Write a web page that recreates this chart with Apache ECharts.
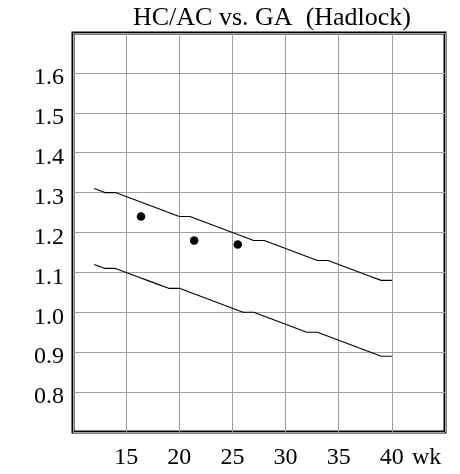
<!DOCTYPE html>
<html>
<head>
<meta charset="utf-8">
<script src="https://cdn.jsdelivr.net/npm/echarts@6/dist/echarts.min.js"></script>
<style>
html,body{margin:0;padding:0;background:#fff;}
#chart{width:460px;height:474px;}
</style>
</head>
<body>
<div id="chart"></div>
<script>
var weeks = [12,13,14,15,16,17,18,19,20,21,22,23,24,25,26,27,28,29,30,31,32,33,34,35,36,37,38,39,40];
var upper = [1.31,1.30,1.30,1.29,1.28,1.27,1.26,1.25,1.24,1.24,1.23,1.22,1.21,1.20,1.19,1.18,1.18,1.17,1.16,1.15,1.14,1.13,1.13,1.12,1.11,1.10,1.09,1.08,1.08];
var lower = [1.12,1.11,1.11,1.10,1.09,1.08,1.07,1.06,1.06,1.05,1.04,1.03,1.02,1.01,1.00,1.00,0.99,0.98,0.97,0.96,0.95,0.95,0.94,0.93,0.92,0.91,0.90,0.89,0.89];
var pointWeeks = [16.4, 21.4, 25.5];
var pointValues = [1.24, 1.18, 1.17];
var xTickLabels = ['15','20','25','30','35','40'];
var yTickLabels = ['0.8','0.9','1.0','1.1','1.2','1.3','1.4','1.5','1.6'];
var titleText = 'HC/AC vs. GA  (Hadlock)';
var xUnit = 'wk';

var FONT = '"Liberation Serif", "DejaVu Serif", serif';
function zip(a, b){ return a.map(function(v,i){ return [v, b[i]]; }); }

var chart = echarts.init(document.getElementById('chart'), null, {renderer:'canvas'});
chart.setOption({
  animation: false,
  backgroundColor: '#fff',
  title: {
    text: titleText,
    left: 128, top: 0,
    textStyle: {fontFamily: FONT, fontSize: 26, fontWeight: 'normal', color: '#000'}
  },
  grid: {
    left: 73, top: 33, right: 15, bottom: 42,
    show: true, borderColor: '#000', borderWidth: 3, backgroundColor: 'transparent'
  },
  xAxis: {
    type: 'value', min: 10, max: 45, interval: 5,
    name: xUnit, nameLocation: 'end', nameGap: -33,
    nameTextStyle: {fontFamily: FONT, fontSize: 24, color: '#000', verticalAlign: 'top', padding: [14,0,0,0]},
    axisLine: {show: false}, axisTick: {show: false},
    splitLine: {show: true, lineStyle: {color: '#a0a0a0', width: 1}},
    axisLabel: {
      margin: 14, fontFamily: FONT, fontSize: 24, color: '#000',
      formatter: function(v){ var s = String(Math.round(v)); return xTickLabels.indexOf(s) >= 0 ? s : ''; }
    }
  },
  yAxis: {
    type: 'value', min: 0.7, max: 1.7, interval: 0.1,
    axisLine: {show: false}, axisTick: {show: false},
    splitLine: {show: true, lineStyle: {color: '#a0a0a0', width: 1}},
    axisLabel: {
      margin: 9, fontFamily: FONT, fontSize: 24, color: '#000', verticalAlign: 'top', lineHeight: 10,
      formatter: function(v){ var s = v.toFixed(1); return yTickLabels.indexOf(s) >= 0 ? s : ''; }
    }
  },
  series: [
    {type: 'line', data: zip(weeks, upper), symbol: 'none', lineStyle: {color: '#000', width: 1.1}, silent: true},
    {type: 'line', data: zip(weeks, lower), symbol: 'none', lineStyle: {color: '#000', width: 1.1}, silent: true},
    {type: 'scatter', data: zip(pointWeeks, pointValues), symbol: 'circle', symbolSize: 8.5, itemStyle: {color: '#000', opacity: 1}, silent: true}
  ]
});
</script>
</body>
</html>
